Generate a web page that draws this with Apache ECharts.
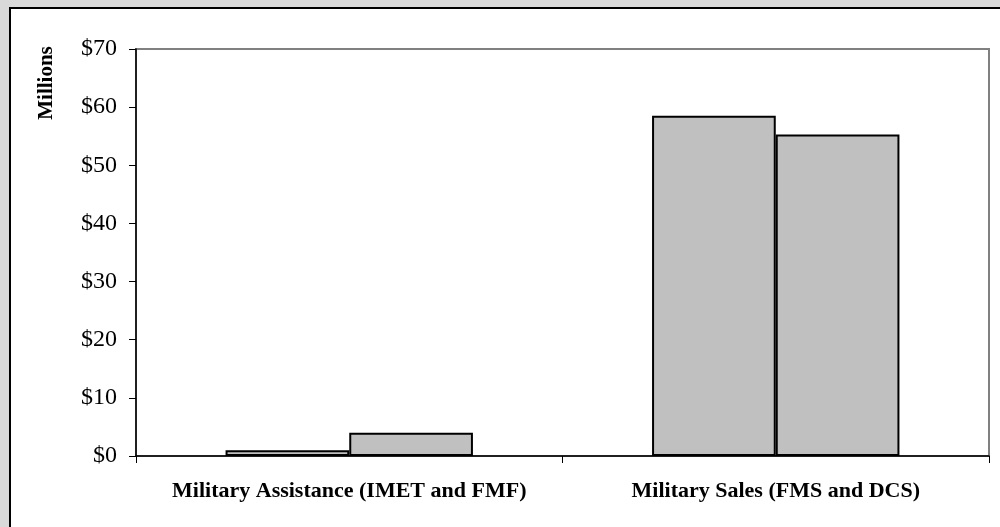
<!DOCTYPE html>
<html>
<head>
<meta charset="utf-8">
<script src="https://cdn.jsdelivr.net/npm/echarts@6/dist/echarts.min.js"></script>
<style>
  html, body { margin: 0; padding: 0; background: #d9d9d9; }
  #chart { width: 1000px; height: 527px; }
</style>
</head>
<body>
<div id="chart"></div>
<script>
// Program categories and two yearly series (in millions of dollars)
const categories = ['Military Assistance (IMET and FMF)', 'Military Sales (FMS and DCS)'];
const seriesA = [1.0, 58.5];
const seriesB = [4.0, 55.3];
const yTicks = [0, 10, 20, 30, 40, 50, 60, 70];

const chart = echarts.init(document.getElementById('chart'), null, { renderer: 'canvas' });

const serif = '"Liberation Serif", "DejaVu Serif", serif';

const barStyle = { color: '#c0c0c0', borderColor: '#000', borderWidth: 2 };

chart.setOption({
  backgroundColor: '#d9d9d9',
  animation: false,
  graphic: [
    {
      type: 'rect',
      z: -10,
      shape: { x: 10, y: 8, width: 1000, height: 530 },
      style: { fill: '#ffffff', stroke: '#000', lineWidth: 2 }
    },
    {
      type: 'text',
      x: 47,
      y: 83,
      rotation: Math.PI / 2,
      style: {
        text: 'Millions',
        font: 'bold 21px ' + serif,
        fill: '#000',
        align: 'center',
        verticalAlign: 'middle'
      }
    }
  ],
  grid: {
    left: 136,
    top: 49,
    right: 11,
    bottom: 71,
    show: true,
    borderColor: '#808080',
    borderWidth: 2,
    backgroundColor: 'transparent'
  },
  xAxis: {
    type: 'category',
    data: categories,
    axisLine: { lineStyle: { color: '#000', width: 1.5 } },
    axisTick: { show: true, interval: 0, length: 7, lineStyle: { color: '#000', width: 1 } },
    axisLabel: {
      interval: 0,
      hideOverlap: false,
      fontFamily: serif,
      fontWeight: 'bold',
      fontSize: 22,
      color: '#000',
      margin: 24
    }
  },
  yAxis: {
    type: 'value',
    min: yTicks[0],
    max: yTicks[yTicks.length - 1],
    interval: 10,
    splitLine: { show: false },
    axisLine: { show: true, lineStyle: { color: '#000', width: 1.5 } },
    axisTick: { show: true, length: 7, lineStyle: { color: '#000', width: 1 } },
    axisLabel: {
      fontFamily: serif,
      fontSize: 24,
      color: '#000',
      margin: 19,
      formatter: v => '$' + v
    }
  },
  series: [
    {
      type: 'bar',
      data: seriesA,
      barGap: '0%',
      barCategoryGap: '42%',
      itemStyle: barStyle
    },
    {
      type: 'bar',
      data: seriesB,
      barGap: '0%',
      barCategoryGap: '42%',
      itemStyle: barStyle
    }
  ]
});
</script>
</body>
</html>
